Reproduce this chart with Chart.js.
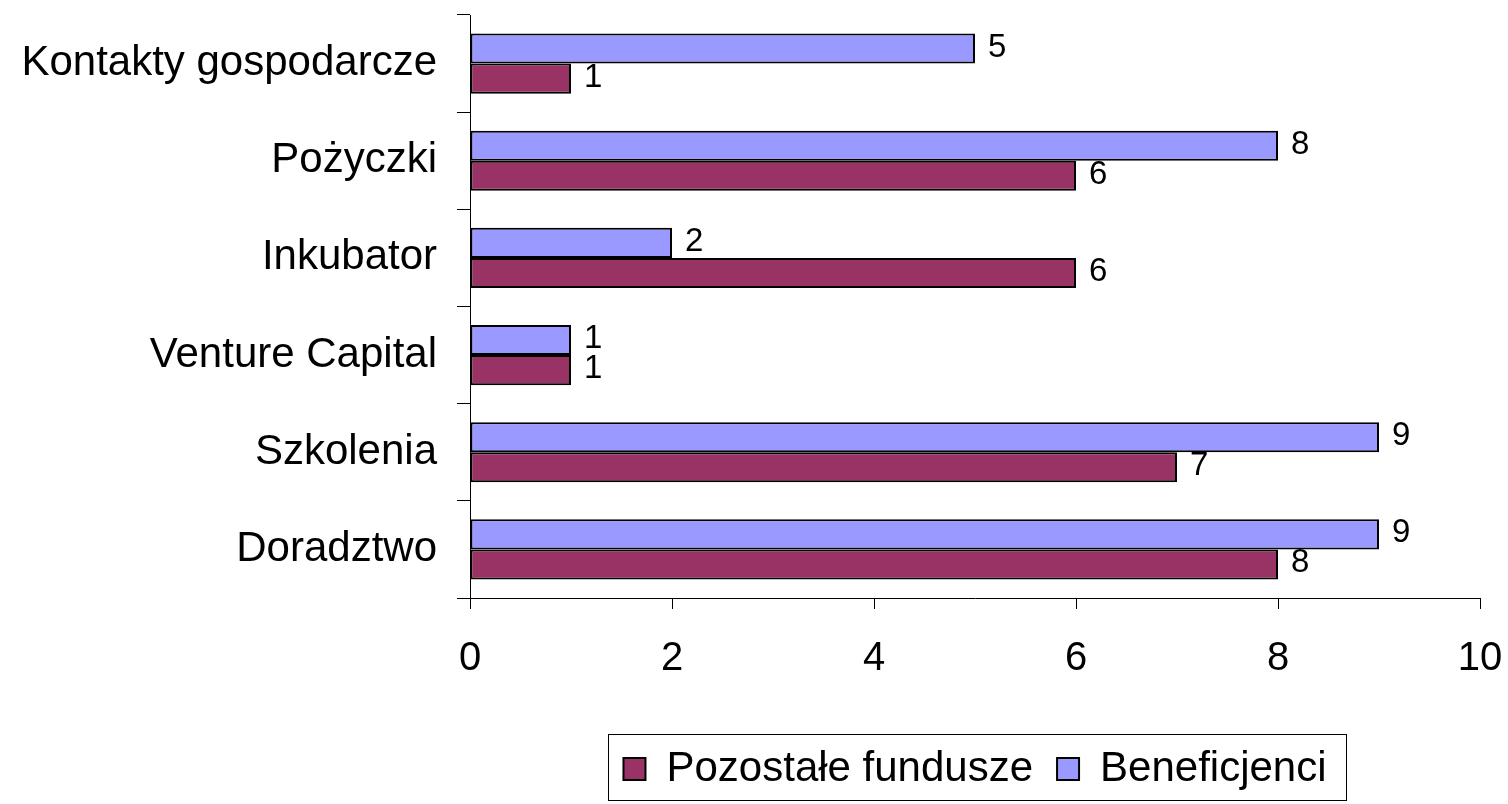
<!DOCTYPE html>
<html>
<head>
<meta charset="utf-8">
<script src="https://cdn.jsdelivr.net/npm/chart.js@4/dist/chart.umd.min.js"></script>
<style>
  html, body { margin: 0; padding: 0; background: #fff; }
  #wrap { width: 1508px; height: 804px; }
</style>
</head>
<body>
<div id="wrap"><canvas id="chart" width="1508" height="804"></canvas></div>
<script>
const categories = ['Kontakty gospodarcze', 'Pożyczki', 'Inkubator', 'Venture Capital', 'Szkolenia', 'Doradztwo'];
const beneficjenci = [5, 8, 2, 1, 9, 9];
const pozostale = [1, 6, 6, 1, 7, 8];
const xTicks = [0, 2, 4, 6, 8, 10];

// etykiety z wartościami po prawej stronie słupków
const valueLabels = {
  id: 'valueLabels',
  afterDatasetsDraw(chart) {
    const ctx = chart.ctx;
    ctx.save();
    ctx.font = '33px "Liberation Sans", Arial, sans-serif';
    ctx.fillStyle = '#000';
    ctx.textAlign = 'left';
    ctx.textBaseline = 'alphabetic';
    chart.data.datasets.forEach((ds, i) => {
      chart.getDatasetMeta(i).data.forEach((bar, j) => {
        ctx.fillText(String(ds.data[j]), bar.x + 13, bar.y + 8);
      });
    });
    ctx.restore();
  }
};

// ramka wokół legendy
const legendFrame = {
  id: 'legendFrame',
  afterDraw(chart) {
    const lg = chart.legend;
    if (!lg || !lg.legendHitBoxes.length) return;
    const boxes = lg.legendHitBoxes;
    const left = Math.min(...boxes.map(b => b.left)) - 15;
    const right = Math.max(...boxes.map(b => b.left + b.width)) + 20;
    const ctx = chart.ctx;
    ctx.save();
    ctx.strokeStyle = '#000';
    ctx.lineWidth = 1;
    ctx.strokeRect(Math.round(left) + 0.5, 734.5, Math.round(right - left), 66);
    ctx.restore();
  }
};

new Chart(document.getElementById('chart'), {
  type: 'bar',
  data: {
    labels: categories,
    datasets: [
      {
        label: 'Beneficjenci',
        data: beneficjenci,
        backgroundColor: '#9999FF',
        borderColor: '#000',
        borderWidth: 2,
        borderSkipped: false
      },
      {
        label: 'Pozostałe fundusze',
        data: pozostale,
        backgroundColor: '#993366',
        borderColor: '#000',
        borderWidth: 2,
        borderSkipped: false
      }
    ]
  },
  options: {
    indexAxis: 'y',
    responsive: false,
    animation: false,
    categoryPercentage: 0.62,
    barPercentage: 1,
    layout: { padding: { top: 15, right: 28, bottom: 4, left: 0 } },
    plugins: {
      tooltip: { enabled: false },
      legend: {
        position: 'bottom',
        align: 'center',
        fullSize: false,
        reverse: true,
        labels: {
          color: '#000',
          font: { family: '"Liberation Sans", Arial, sans-serif', size: 42 },
          boxWidth: 22,
          boxHeight: 22,
          padding: 24
        }
      }
    },
    scales: {
      x: {
        min: 0,
        max: 10,
        afterBuildTicks(scale) { scale.ticks = xTicks.map(v => ({ value: v })); },
        afterFit(scale) {
          scale.height = 126;
          scale.paddingLeft = 0;
          scale.paddingRight = 0;
        },
        grid: { drawOnChartArea: false, tickLength: 11, color: '#000' },
        border: { color: '#000', width: 1 },
        ticks: {
          color: '#000',
          padding: 26,
          font: { family: '"Liberation Sans", Arial, sans-serif', size: 40 }
        }
      },
      y: {
        afterFit(scale) {
          scale.width = 470;
          scale.paddingTop = 0;
          scale.paddingBottom = 0;
        },
        grid: { drawOnChartArea: false, offset: true, tickLength: 13, color: '#000' },
        border: { color: '#000', width: 1 },
        ticks: {
          color: '#000',
          padding: 20,
          font: { family: '"Liberation Sans", Arial, sans-serif', size: 42 }
        }
      }
    }
  },
  plugins: [valueLabels, legendFrame]
});
</script>
</body>
</html>
